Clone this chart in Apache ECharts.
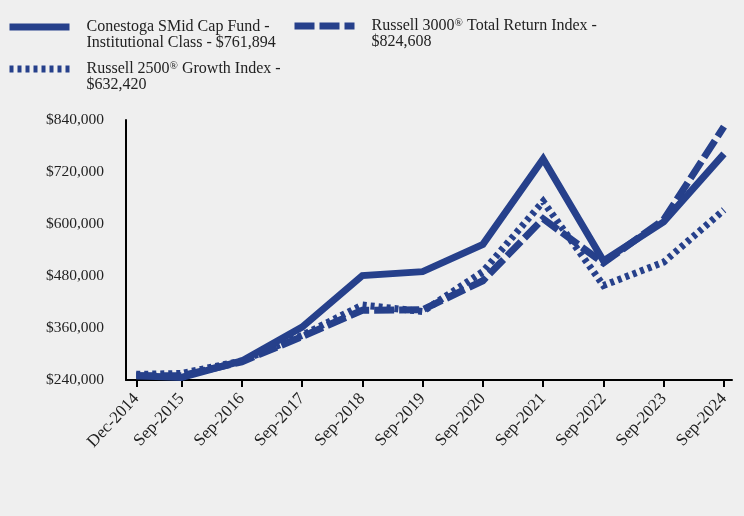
<!DOCTYPE html>
<html>
<head>
<meta charset="utf-8">
<script src="https://cdn.jsdelivr.net/npm/echarts@6/dist/echarts.min.js"></script>
<style>
html,body{margin:0;padding:0;background:#efefef;}
#c{width:744px;height:516px;}
</style>
</head>
<body>
<div id="c"></div>
<script>
var categories = ['Dec-2014','Sep-2015','Sep-2016','Sep-2017','Sep-2018','Sep-2019','Sep-2020','Sep-2021','Sep-2022','Sep-2023','Sep-2024'];
var monthsFromStart = [0, 9, 21, 33, 45, 57, 69, 81, 93, 105, 117];
var conestoga = [250000, 246000, 284000, 362000, 481000, 490000, 553000, 750000, 515000, 605000, 761894];
var russell3000 = [250000, 250000, 282000, 340000, 401000, 402000, 469000, 612000, 510000, 610000, 824608];
var russell2500g = [253000, 255000, 284000, 343000, 413000, 398000, 490000, 652000, 458000, 512000, 632420];
var yTicks = [240000, 360000, 480000, 600000, 720000, 840000];
var names = ['Conestoga SMid Cap Fund - Institutional Class - $761,894',
             'Russell 3000® Total Return Index - $824,608',
             'Russell 2500® Growth Index - $632,420'];
var legendRich = [
  '{t|Conestoga SMid Cap Fund -}\n{t|Institutional Class - $761,894}',
  '{t|Russell 3000}{s|®}{t| Total Return Index -}\n{t|$824,608}',
  '{t|Russell 2500}{s|®}{t| Growth Index -}\n{t|$632,420}'
];
var dashTypes = ['solid', [20, 5], [4, 4]];

function pairs(vals){ return vals.map(function(v,i){ return [monthsFromStart[i], v]; }); }
var labelMap = {};
monthsFromStart.forEach(function(m,i){ labelMap[m] = categories[i]; });

var color = '#26408b';
var font = "'Liberation Serif', 'Times New Roman', serif";
var legendText = {
  fontFamily: font, fontSize: 16, color: '#222', lineHeight: 16, padding: [0, 0, 0, 12],
  rich: {
    t: {fontFamily: font, fontSize: 16, color: '#222', lineHeight: 16},
    s: {fontFamily: font, fontSize: 11, color: '#222', lineHeight: 11, verticalAlign: 'top'}
  }
};

function legendAt(i, left, top){
  return {
    data: [{name: names[i], itemStyle: {opacity: 0},
            lineStyle: {color: color, width: 7, type: dashTypes[i], cap: 'butt', opacity: 1}}],
    left: left, top: top, padding: 0, itemWidth: 60, itemHeight: 8,
    selectedMode: false, textStyle: legendText,
    formatter: function(){ return '{t| }\n' + legendRich[i]; }
  };
}

var chart = echarts.init(document.getElementById('c'), null, {renderer: 'canvas'});
chart.setOption({
  backgroundColor: '#efefef',
  animation: false,
  legend: [
    legendAt(0, 6, 3),
    legendAt(1, 291, 2),
    legendAt(2, 6, 45)
  ],
  grid: {left: 126, right: 12, top: 120, bottom: 136, containLabel: false},
  xAxis: {
    type: 'value', min: -2.05, max: 118.6,
    axisLine: {show: true, onZero: false, lineStyle: {color: '#000', width: 2}},
    axisTick: {show: true, customValues: monthsFromStart, length: 7, lineStyle: {color: '#000', width: 2}},
    axisLabel: {customValues: monthsFromStart, rotate: 47, margin: 16, fontFamily: font, fontSize: 17, color: '#222',
                formatter: function(v){ return labelMap[v] || ''; }},
    splitLine: {show: false}
  },
  yAxis: {
    type: 'value', min: yTicks[0], max: yTicks[yTicks.length-1], interval: 120000,
    axisLine: {show: true, onZero: false, lineStyle: {color: '#000', width: 2}},
    axisTick: {show: false},
    axisLabel: {margin: 22, fontFamily: font, fontSize: 15.5, color: '#222',
                formatter: function(v){ return '$' + v.toLocaleString('en-US'); }},
    splitLine: {show: false}
  },
  series: [
    {name: names[0], type: 'line', data: pairs(conestoga), symbol: 'none', z: 5, color: color,
     lineStyle: {color: color, width: 7, type: dashTypes[0], cap: 'butt', join: 'miter'}},
    {name: names[1], type: 'line', data: pairs(russell3000), symbol: 'none', z: 4, color: color,
     lineStyle: {color: color, width: 7, type: dashTypes[1], cap: 'butt', join: 'miter'}},
    {name: names[2], type: 'line', data: pairs(russell2500g), symbol: 'none', z: 3, color: color,
     lineStyle: {color: color, width: 7, type: dashTypes[2], cap: 'butt', join: 'miter'}}
  ]
});
</script>
</body>
</html>
